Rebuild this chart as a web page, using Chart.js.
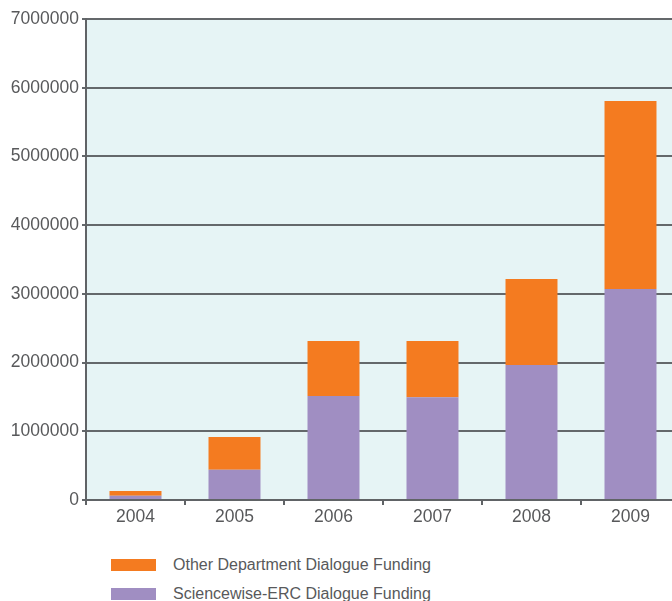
<!doctype html>
<html lang="en">

<head>
  <title>Dialogue Funding</title>
  <meta charset="utf-8" />
  <style>
    body { margin: 0; overflow: hidden; background: #fff; }
    #wrap { position: relative; width: 680px; height: 601px; }
    #lienzo { position: absolute; left: 0; top: 0; }
    .item { position: absolute; left: 111px; font: 16px "Liberation Sans", Arial, sans-serif; color: #58595b; }
    .item span { position: absolute; left: 0; top: 0; width: 45px; height: 12px; }
    .item b { position: absolute; left: 62px; top: -3px; font-weight: normal; white-space: nowrap; }
  </style>
</head>

<body>
  <div id="wrap">
    <canvas id="lienzo" width="680" height="540" style="width:680px;height:540px"></canvas>
    <div class="item" style="top:559px"><span style="background:#f47b20"></span><b>Other Department Dialogue Funding</b></div>
    <div class="item" style="top:588px"><span style="background:#a08ec2"></span><b>Sciencewise-ERC Dialogue Funding</b></div>
  </div>
  <script src="https://cdn.jsdelivr.net/npm/chart.js"></script>
  <script>
    const years = ["2004", "2005", "2006", "2007", "2008", "2009"];
    const sciencewise = [63000, 441000, 1514000, 1495000, 1965000, 3071000];
    const otherDept = [68000, 476000, 800000, 819000, 1252000, 2737000];

    const tickFont = { family: "'Liberation Sans', Arial, sans-serif", size: 17.5 };

    // relleno del area del grafico
    const fondo = {
      id: 'fondo',
      beforeDraw(chart) {
        const { ctx, chartArea: a } = chart;
        ctx.save();
        ctx.fillStyle = '#e6f4f5';
        ctx.fillRect(a.left, a.top, a.right - a.left, a.bottom - a.top);
        ctx.restore();
      }
    };

    new Chart(document.querySelector('#lienzo'), {
      type: 'bar',
      data: {
        labels: years,
        datasets: [
          { label: 'Sciencewise-ERC Dialogue Funding', data: sciencewise, backgroundColor: '#a08ec2' },
          { label: 'Other Department Dialogue Funding', data: otherDept, backgroundColor: '#f47b20' }
        ]
      },
      options: {
        responsive: false,
        animation: false,
        events: [],
        layout: { padding: { top: 19, left: 0, right: 0, bottom: 0 } },
        datasets: { bar: { barPercentage: 0.525, categoryPercentage: 1 } },
        plugins: { legend: { display: false }, tooltip: { enabled: false } },
        scales: {
          x: {
            stacked: true,
            grid: { drawOnChartArea: false, color: '#606366', lineWidth: 2, tickLength: 5 },
            border: { color: '#606366', width: 2 },
            ticks: { color: '#58595b', font: tickFont, padding: 2, maxRotation: 0 },
            afterFit(s) { s.height = 40; }
          },
          y: {
            stacked: true,
            min: 0,
            max: 7000000,
            grid: { color: '#64686b', lineWidth: 2, tickLength: 4 },
            border: { color: '#606366', width: 2 },
            ticks: { stepSize: 1000000, color: '#58595b', font: tickFont, padding: 3, callback: v => String(v) },
            afterFit(s) { s.width = 86; }
          }
        }
      },
      plugins: [fondo]
    });
  </script>
</body>

</html>
